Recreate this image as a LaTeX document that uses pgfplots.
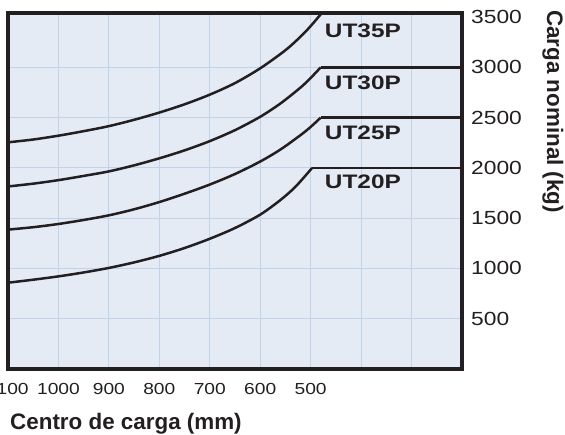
\documentclass[border=0pt]{standalone}
\usepackage{fontspec}
\setmainfont{Liberation Sans}
\newfontfamily\tickfont[FakeStretch=1.2]{Liberation Sans}
\newfontfamily\utfont[FakeStretch=1.25]{Liberation Sans}
\usepackage{pgfplots}
\pgfplotsset{compat=1.18}
\definecolor{framec}{RGB}{35,31,32}
\definecolor{bgblue}{RGB}{228,235,244}
\definecolor{gridblue}{RGB}{192,211,233}
\tikzset{crv/.style={draw=framec, line width=2.5pt, solid, mark=none, line join=round}}
\begin{document}
\begin{tikzpicture}
\begin{axis}[
  at={(8pt,65pt)}, anchor=south west,
  scale only axis, width=454pt, height=356pt,
  xmin=200, xmax=1100, x dir=reverse,
  ymin=0, ymax=3540,
  axis background/.style={fill=bgblue},
  xtick={300,400,500,600,700,800,900,1000,1100},
  xticklabels={,,500,600,700,800,900,1000,1100},
  ytick={500,1000,1500,2000,2500,3000},
  yticklabels={500,1000,1500,2000,2500,3000},
  extra y ticks={3500}, extra y tick labels={3500},
  extra y tick style={grid=none},
  yticklabel pos=right,
  grid=major,
  major grid style={draw=gridblue, line width=1.1pt},
  major tick length=0pt,
  axis line style={draw=framec, line width=3.2pt},
  xticklabel style={anchor=center, yshift=-20pt, inner sep=0pt, text=framec,
    font=\tickfont\fontsize{16}{16}\selectfont},
  yticklabel style={anchor=west, xshift=9pt, inner sep=0pt, text=framec,
    font=\tickfont\fontsize{19}{19}\selectfont},
]
% UT35P
\addplot[crv, smooth] coordinates {(1100,2254)(1050,2282)(1000,2320)(950,2365)(900,2415)(850,2478)(800,2550)(750,2632)(700,2728)(650,2843)(600,2990)(550,3170)(520,3305)(500,3410)(478,3540)(470,3600)};
% UT30P
\addplot[crv, smooth] coordinates {(1100,1815)(1050,1843)(1000,1878)(950,1920)(900,1965)(850,2025)(800,2095)(750,2174)(700,2266)(650,2375)(600,2508)(560,2640)(520,2799)(500,2894)(480,3000)};
\addplot[crv] coordinates {(480,3000)(200,3000)};
% UT25P
\addplot[crv, smooth] coordinates {(1100,1386)(1050,1410)(1000,1442)(950,1482)(900,1528)(850,1588)(800,1660)(750,1743)(700,1834)(650,1939)(600,2063)(560,2182)(520,2326)(500,2407)(480,2500)};
\addplot[crv] coordinates {(480,2500)(200,2500)};
% UT20P
\addplot[crv, smooth] coordinates {(1100,858)(1050,888)(1000,921)(950,960)(900,1005)(850,1060)(800,1125)(750,1203)(700,1295)(650,1402)(600,1535)(560,1680)(530,1813)(497,2000)};
\addplot[crv] coordinates {(497,2000)(200,2000)};
\begin{scope}[every node/.style={anchor=west, inner sep=0pt, text=framec, font=\utfont\bfseries\fontsize{19.5}{19.5}\selectfont}]
\node at (axis cs:472,3363) {UT35P};
\node at (axis cs:472,2844) {UT30P};
\node at (axis cs:472,2347) {UT25P};
\node at (axis cs:472,1860) {UT20P};
\end{scope}
\end{axis}
\node[anchor=base west, inner sep=0pt, text=framec, font=\bfseries\fontsize{22.4}{22.4}\selectfont] at (10pt,4.5pt) {Centro de carga (mm)};
\node[rotate=-90, anchor=base west, inner sep=0pt, text=framec, font=\bfseries\fontsize{22.4}{22.4}\selectfont] at (547pt,424pt) {Carga nominal (kg)};
\pgfresetboundingbox
\path[use as bounding box] (0pt,0pt) rectangle (565pt,434pt);
\end{tikzpicture}
\end{document}
